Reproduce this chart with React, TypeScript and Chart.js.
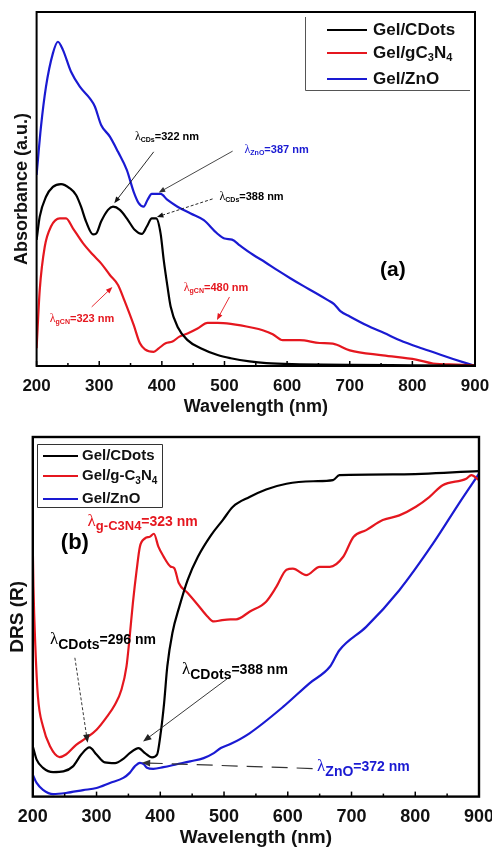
import React, { useEffect, useRef } from "react";
import { Chart, registerables } from "chart.js";
Chart.register(...registerables);

const FAMILY = "'Liberation Sans', Arial, sans-serif";
const BLACK = "#000000";
const RED = "#e5171f";
const BLUE = "#1a1ad2";

// ---------- Panel (a): Absorbance ----------
const wlA_CDots = [200, 205, 215, 226, 239, 253, 263, 271, 279, 290, 295, 303, 314, 322, 333, 344, 357, 368, 376, 384, 391, 398, 403, 409, 414, 425, 441, 462, 489, 510, 540, 567, 620, 700, 800, 900];
const absA_CDots = [0.356, 0.422, 0.478, 0.506, 0.514, 0.502, 0.483, 0.45, 0.408, 0.372, 0.374, 0.408, 0.441, 0.45, 0.441, 0.417, 0.384, 0.373, 0.394, 0.417, 0.417, 0.374, 0.299, 0.224, 0.168, 0.111, 0.073, 0.05, 0.031, 0.022, 0.013, 0.008, 0.005, 0.003, 0.002, 0.001];

const wlA_gCN = [200, 205, 213, 223, 237, 247, 258, 274, 290, 303, 317, 330, 340, 355, 365, 373, 387, 395, 406, 417, 428, 441, 457, 473, 489, 510, 545, 561, 577, 593, 620, 652, 673, 700, 753, 806, 833, 870, 900];
const absA_gCN = [0.05, 0.215, 0.337, 0.394, 0.417, 0.417, 0.389, 0.347, 0.314, 0.29, 0.257, 0.229, 0.186, 0.116, 0.064, 0.047, 0.04, 0.05, 0.064, 0.069, 0.083, 0.092, 0.106, 0.122, 0.122, 0.119, 0.108, 0.101, 0.09, 0.073, 0.073, 0.065, 0.063, 0.044, 0.03, 0.018, 0.007, 0.004, 0.002];

const wlA_ZnO = [200, 207, 215, 226, 234, 242, 255, 269, 285, 293, 303, 317, 330, 344, 355, 363, 371, 377, 384, 398, 409, 425, 446, 467, 488, 500, 512, 525, 545, 565, 585, 605, 625, 645, 665, 675, 685, 700, 727, 755, 780, 810, 835, 865, 900];
const absA_ZnO = [0.54, 0.676, 0.789, 0.883, 0.916, 0.893, 0.831, 0.789, 0.756, 0.733, 0.681, 0.648, 0.605, 0.554, 0.492, 0.46, 0.45, 0.469, 0.486, 0.486, 0.469, 0.45, 0.431, 0.412, 0.375, 0.36, 0.357, 0.34, 0.315, 0.293, 0.27, 0.248, 0.227, 0.207, 0.186, 0.175, 0.155, 0.14, 0.115, 0.093, 0.073, 0.053, 0.038, 0.02, 0.0];

// ---------- Panel (b): DRS ----------
const wlB_CDots = [200, 206, 216, 232, 248, 263, 276, 289, 300, 313, 329, 342, 352, 366, 376, 387, 395, 400, 406, 411, 419, 430, 443, 459, 480, 498, 514, 540, 566, 598, 640, 671, 681, 775, 900];
const drsB_CDots = [0.14, 0.103, 0.08, 0.068, 0.07, 0.084, 0.117, 0.137, 0.117, 0.095, 0.093, 0.105, 0.121, 0.135, 0.121, 0.109, 0.117, 0.168, 0.26, 0.362, 0.455, 0.529, 0.603, 0.667, 0.728, 0.769, 0.806, 0.833, 0.854, 0.87, 0.877, 0.88, 0.894, 0.896, 0.905];

const wlB_gCN = [200, 201, 204, 208, 216, 227, 242, 252, 268, 284, 300, 315, 329, 339, 347, 352, 357, 363, 368, 376, 384, 390, 397, 405, 416, 422, 429, 443, 459, 474, 484, 497, 510, 519, 540, 566, 582, 598, 608, 629, 650, 666, 687, 703, 723, 749, 775, 801, 822, 843, 880, 888, 900];
const drsB_gCN = [0.695, 0.584, 0.418, 0.279, 0.195, 0.14, 0.11, 0.117, 0.144, 0.163, 0.186, 0.219, 0.256, 0.297, 0.362, 0.445, 0.538, 0.631, 0.695, 0.718, 0.723, 0.731, 0.695, 0.668, 0.64, 0.635, 0.594, 0.566, 0.533, 0.501, 0.487, 0.491, 0.493, 0.493, 0.514, 0.542, 0.583, 0.631, 0.634, 0.616, 0.639, 0.639, 0.667, 0.722, 0.741, 0.769, 0.782, 0.806, 0.833, 0.866, 0.884, 0.894, 0.88];

const wlB_ZnO = [200, 206, 216, 232, 252, 279, 300, 321, 342, 352, 360, 368, 374, 379, 389, 405, 426, 447, 468, 484, 495, 510, 540, 593, 634, 666, 681, 723, 775, 828, 870, 900];
const drsB_ZnO = [0.061, 0.038, 0.019, 0.007, 0.01, 0.018, 0.024, 0.038, 0.052, 0.066, 0.084, 0.094, 0.09, 0.08, 0.077, 0.082, 0.09, 0.098, 0.107, 0.121, 0.135, 0.146, 0.176, 0.25, 0.315, 0.361, 0.407, 0.472, 0.574, 0.704, 0.819, 0.898];

const seriesLabels = ["Gel/CDots", "Gel/gC3N4", "Gel/ZnO"];
const seriesLabelsB = ["Gel/CDots", "Gel/g-C3N4", "Gel/ZnO"];
const xTickStep = 100;
const xMinorStep = 50;

// annotations in data units (wavelength, value)
const notesA = [
  { text: "λ_{CDs}=322 nm", x: 357, y: 0.647, color: BLACK, arrow: { from: [387, 0.605], to: [324, 0.46], dash: [], color: "#111" } },
  { text: "λ_{ZnO}=387 nm", x: 532, y: 0.61, color: BLUE, arrow: { from: [513, 0.607], to: [395, 0.49], dash: [], color: "#333" } },
  { text: "λ_{CDs}=388 nm", x: 492, y: 0.477, color: BLACK, arrow: { from: [481, 0.472], to: [392, 0.421], dash: [3, 2], color: "#111" } },
  { text: "λ_{gCN}=323 nm", x: 221, y: 0.133, color: RED, arrow: { from: [288, 0.167], to: [321, 0.223], dash: [], color: RED } },
  { text: "λ_{gCN}=480 nm", x: 435, y: 0.22, color: RED, arrow: { from: [508, 0.195], to: [488, 0.13], dash: [], color: RED } },
  { text: "(a)", x: 769, y: 0.271, color: BLACK, big: true },
];
const notesB = [
  { text: "λ_{g-C3N4}=323 nm", x: 286, y: 0.764, color: RED, subSize: 13 },
  { text: "(b)", x: 266, y: 0.706, color: BLACK, big: true },
  { text: "λ_{CDots}=296 nm", x: 227, y: 0.436, color: BLACK, arrow: { from: [266, 0.386], to: [286, 0.15], dash: [3, 2], color: "#222" } },
  { text: "λ_{CDots}=388 nm", x: 434, y: 0.353, color: BLACK, arrow: { from: [509, 0.333], to: [373, 0.153], dash: [], color: "#222" } },
  { text: "λ_{ZnO}=372 nm", x: 646, y: 0.083, color: BLUE, arrow: { from: [639, 0.078], to: [371, 0.094], dash: [16, 9], color: "#333", width: 1.2 } },
];

function drawRich(ctx: any, str: string, x: number, y: number, o: any) {
  const parts: any[] = [];
  const re = /_\{([^}]*)\}/g;
  let last = 0;
  let m: any;
  while ((m = re.exec(str))) {
    if (m.index > last) parts.push({ t: str.slice(last, m.index), sub: false });
    parts.push({ t: m[1], sub: true });
    last = re.lastIndex;
  }
  if (last < str.length) parts.push({ t: str.slice(last), sub: false });
  const runs: any[] = [];
  for (const p of parts) {
    if (!p.sub && p.t.includes("λ")) {
      const segs = p.t.split("λ");
      segs.forEach((s: string, i: number) => {
        if (i > 0) runs.push({ t: "λ", lam: true });
        if (s) runs.push({ t: s });
      });
    } else runs.push(p);
  }
  const fontFor = (r: any) =>
    r.lam
      ? `${o.lambdaWeight || "normal"} ${o.lambdaSize}px 'Liberation Serif', serif`
      : r.sub
      ? `bold ${o.subSize}px ${FAMILY}`
      : `bold ${o.size}px ${FAMILY}`;
  let total = 0;
  for (const r of runs) {
    ctx.font = fontFor(r);
    r.w = ctx.measureText(r.t).width;
    total += r.w;
  }
  let cx = o.align === "center" ? x - total / 2 : x;
  ctx.fillStyle = o.color;
  ctx.textBaseline = "middle";
  ctx.textAlign = "left";
  for (const r of runs) {
    ctx.font = fontFor(r);
    ctx.fillText(r.t, cx, y + (r.sub ? o.subDy : 0));
    cx += r.w;
  }
}

function drawArrow(ctx: any, x1: number, y1: number, x2: number, y2: number, color: string, width: number, dash: number[], head: number) {
  ctx.save();
  ctx.strokeStyle = color;
  ctx.fillStyle = color;
  ctx.lineWidth = width;
  ctx.setLineDash(dash || []);
  const ang = Math.atan2(y2 - y1, x2 - x1);
  const ex = x2 - Math.cos(ang) * head * 0.8;
  const ey = y2 - Math.sin(ang) * head * 0.8;
  ctx.beginPath();
  ctx.moveTo(x1, y1);
  ctx.lineTo(ex, ey);
  ctx.stroke();
  ctx.setLineDash([]);
  ctx.beginPath();
  ctx.moveTo(x2, y2);
  ctx.lineTo(x2 - head * Math.cos(ang - 0.38), y2 - head * Math.sin(ang - 0.38));
  ctx.lineTo(x2 - head * Math.cos(ang + 0.38), y2 - head * Math.sin(ang + 0.38));
  ctx.closePath();
  ctx.fill();
  ctx.restore();
}

const decorPlugin = {
  id: "decor",
  afterDatasetsDraw(chart: any, _args: any, opts: any) {
    const { ctx, chartArea } = chart;
    const { left, right, top, bottom } = chartArea;
    const xs = chart.scales.x;
    const ys = chart.scales.y;
    ctx.save();
    // frame
    ctx.strokeStyle = "#000";
    ctx.lineWidth = opts.frameWidth;
    ctx.strokeRect(left, top, right - left, bottom - top);
    // inward ticks
    ctx.lineWidth = 1.5;
    for (let v = xs.min; v <= xs.max; v += xMinorStep) {
      const px = xs.getPixelForValue(v);
      const major = (v - xs.min) % xTickStep === 0;
      ctx.beginPath();
      ctx.moveTo(px, bottom);
      ctx.lineTo(px, bottom - (major ? opts.majorLen : opts.minorLen));
      ctx.stroke();
    }
    // annotations
    for (const n of opts.notes) {
      const px = xs.getPixelForValue(n.x);
      const py = ys.getPixelForValue(n.y);
      if (n.arrow) {
        const a = n.arrow;
        drawArrow(
          ctx,
          xs.getPixelForValue(a.from[0]),
          ys.getPixelForValue(a.from[1]),
          xs.getPixelForValue(a.to[0]),
          ys.getPixelForValue(a.to[1]),
          a.color,
          a.width || 0.9,
          a.dash,
          opts.headSize
        );
      }
      if (n.big) {
        ctx.font = `bold ${opts.bigSize}px ${FAMILY}`;
        ctx.fillStyle = n.color;
        ctx.textAlign = "center";
        ctx.textBaseline = "middle";
        ctx.fillText(n.text, px, py);
      } else {
        drawRich(ctx, n.text, px, py, {
          size: opts.noteSize,
          subSize: n.subSize || opts.noteSubSize,
          subDy: opts.noteSubDy,
          lambdaSize: opts.lambdaSize,
          color: n.color,
        });
      }
    }
    // legend
    const L = opts.legend;
    ctx.strokeStyle = L.boxColor;
    ctx.lineWidth = 1;
    ctx.beginPath();
    if (L.full) {
      ctx.rect(L.box[0] + 0.5, L.box[1] + 0.5, L.box[2] - L.box[0], L.box[3] - L.box[1]);
    } else {
      ctx.moveTo(L.box[0] + 0.5, L.box[1]);
      ctx.lineTo(L.box[0] + 0.5, L.box[3] + 0.5);
      ctx.lineTo(L.box[2], L.box[3] + 0.5);
    }
    ctx.stroke();
    chart.data.datasets.forEach((ds: any, i: number) => {
      const yy = L.rows[i];
      ctx.strokeStyle = ds.borderColor;
      ctx.lineWidth = 2.2;
      ctx.beginPath();
      ctx.moveTo(L.lineX[0], yy);
      ctx.lineTo(L.lineX[1], yy);
      ctx.stroke();
      drawRich(ctx, ds.label.replace(/(\d)/g, "_{$1}"), L.textX, yy, {
        size: L.size,
        subSize: L.subSize,
        subDy: L.subDy,
        lambdaSize: L.size,
        color: "#111",
      });
    });
    ctx.restore();
  },
};

function pts(xs: number[], ys: number[]) {
  return xs.map((x, i) => ({ x, y: ys[i] }));
}

function makeConfig(p: any) {
  return {
    type: "line",
    data: {
      datasets: [
        { label: p.labels[0], data: pts(p.s[0][0], p.s[0][1]), borderColor: BLACK },
        { label: p.labels[1], data: pts(p.s[1][0], p.s[1][1]), borderColor: RED },
        { label: p.labels[2], data: pts(p.s[2][0], p.s[2][1]), borderColor: BLUE },
      ],
    },
    options: {
      responsive: false,
      animation: false,
      devicePixelRatio: 1,
      parsing: true,
      layout: { padding: p.padding },
      elements: {
        point: { radius: 0, hoverRadius: 0 },
        line: { borderWidth: 2.2, cubicInterpolationMode: "monotone", fill: false },
      },
      plugins: {
        legend: { display: false },
        tooltip: { enabled: false },
        decor: p.decor,
      },
      scales: {
        x: {
          type: "linear",
          min: 200,
          max: 900,
          grid: { display: false, drawTicks: false },
          border: { display: false },
          ticks: {
            stepSize: xTickStep,
            color: "#111",
            autoSkip: false,
            maxRotation: 0,
            padding: p.tickPad,
            font: { family: FAMILY, size: p.tickSize, weight: "bold" },
          },
          title: {
            display: true,
            text: "Wavelength (nm)",
            color: "#111",
            font: { family: FAMILY, size: p.titleSize, weight: "bold" },
            padding: { top: p.titlePadTop, bottom: 0 },
          },
          afterFit: (s: any) => {
            s.paddingLeft = 0;
            s.paddingRight = 0;
          },
        },
        y: {
          min: 0,
          max: 1,
          grid: { display: false, drawTicks: false },
          border: { display: false },
          ticks: { display: false },
          title: {
            display: true,
            text: p.yTitle,
            color: "#111",
            font: { family: FAMILY, size: p.yTitleSize, weight: "bold" },
            padding: 4,
          },
        },
      },
    },
    plugins: [decorPlugin],
  };
}

const configA = () =>
  makeConfig({
    labels: seriesLabels,
    s: [
      [wlA_CDots, absA_CDots],
      [wlA_gCN, absA_gCN],
      [wlA_ZnO, absA_ZnO],
    ],
    padding: { left: 7, right: 17, top: 12, bottom: 2 },
    tickPad: 10,
    tickSize: 17,
    titleSize: 18,
    titlePadTop: -10,
    yTitle: "Absorbance (a.u.)",
    yTitleSize: 18,
    decor: {
      frameWidth: 2,
      majorLen: 5,
      minorLen: 3,
      notes: notesA,
      headSize: 7,
      bigSize: 21,
      noteSize: 11,
      noteSubSize: 7,
      noteSubDy: 3,
      lambdaSize: 12,
      legend: {
        box: [305, 17, 470, 90],
        full: false,
        boxColor: "#555",
        lineX: [327, 367],
        textX: 373,
        rows: [30, 53, 79],
        size: 17,
        subSize: 11,
        subDy: 5,
      },
    },
  });

const configB = () =>
  makeConfig({
    labels: seriesLabelsB,
    s: [
      [wlB_CDots, drsB_CDots],
      [wlB_gCN, drsB_gCN],
      [wlB_ZnO, drsB_ZnO],
    ],
    padding: { left: 2, right: 13, top: 17, bottom: 0 },
    tickPad: 10,
    tickSize: 18,
    titleSize: 19,
    titlePadTop: -12,
    yTitle: "DRS (R)",
    yTitleSize: 19,
    decor: {
      frameWidth: 2.4,
      majorLen: 5,
      minorLen: 3,
      notes: notesB,
      headSize: 9,
      bigSize: 22,
      noteSize: 14,
      noteSubSize: 14,
      noteSubDy: 5,
      lambdaSize: 17,
      legend: {
        box: [37, 24, 162, 87],
        full: true,
        boxColor: "#333",
        lineX: [43, 78],
        textX: 82,
        rows: [36, 56, 79],
        size: 15,
        subSize: 10,
        subDy: 5,
      },
    },
  });

function Panel({ make, top, height }: { make: () => any; top: number; height: number }) {
  const ref = useRef<HTMLCanvasElement | null>(null);
  useEffect(() => {
    const chart = new Chart(ref.current as HTMLCanvasElement, make());
    return () => chart.destroy();
  }, []);
  return (
    <canvas
      ref={ref}
      width={492}
      height={height}
      style={{ position: "absolute", left: 0, top, width: 492, height, display: "block" }}
    />
  );
}

export default function App() {
  return (
    <div style={{ position: "absolute", left: 0, top: 0, width: 492, height: 849, background: "#fff", overflow: "hidden" }}>
      <Panel make={configA} top={0} height={420} />
      <Panel make={configB} top={420} height={429} />
    </div>
  );
}
